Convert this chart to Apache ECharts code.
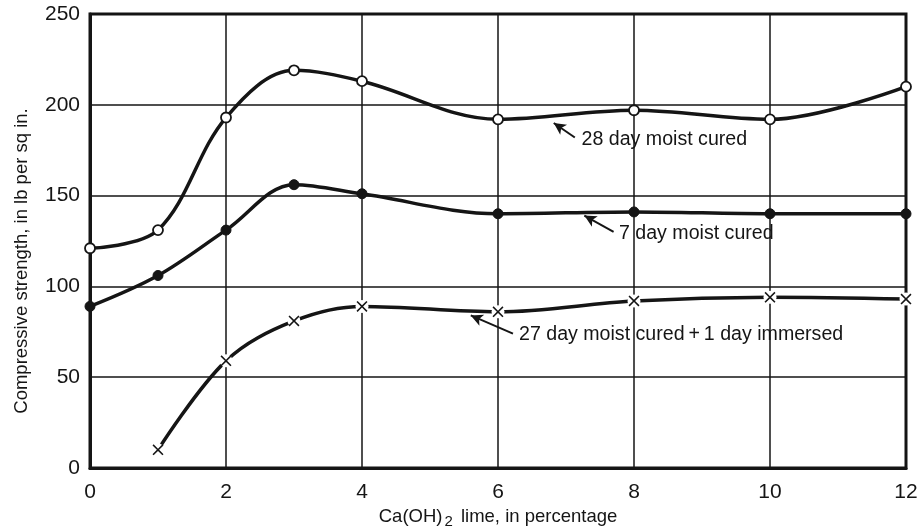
<!DOCTYPE html>
<html>
<head>
<meta charset="utf-8">
<script src="https://cdn.jsdelivr.net/npm/echarts@6/dist/echarts.min.js"></script>
<style>
  html, body { margin: 0; padding: 0; background: #fff; }
  #chart { width: 919px; height: 528px; }
</style>
</head>
<body>
<div id="chart"></div>
<script>
// Lime content (percent) and compressive strength (lb per sq in.)
const limePct = [0, 1, 2, 3, 4, 6, 8, 10, 12];
const moist28 = [121, 131, 193, 219, 213, 192, 197, 192, 210];
const moist7 = [89, 106, 131, 156, 151, 140, 141, 140, 140];
const immersedPct = [1, 2, 3, 4, 6, 8, 10, 12];
const immersed = [10, 59, 81, 89, 86, 92, 94, 93];

// Curve labels: text, label anchor [x, y] (data units), arrow tail and head
const curveNotes = [
  { text: '28 day moist cured', at: [7.17, 181], tail: [7.13, 182], head: [6.82, 190] },
  { text: '7 day moist cured', at: [7.72, 129], tail: [7.7, 130], head: [7.27, 139] },
  { text: '27 day moist cured\u2009+\u20091 day immersed', at: [6.25, 73.5], tail: [6.22, 74], head: [5.6, 84] }
];

const ink = '#151515';
const font = '"Liberation Sans", Arial, sans-serif';

function pairs(xs, ys) { return xs.map((x, i) => [x, ys[i]]); }

const crossPath = 'path://M0,1 L1,0 L5,4 L9,0 L10,1 L6,5 L10,9 L9,10 L5,6 L1,10 L0,9 L4,5 Z';

function arrowLine(note) {
  return [{ coord: note.tail }, { coord: note.head }];
}

const chart = echarts.init(document.getElementById('chart'));

chart.setOption({
  animation: false,
  backgroundColor: '#fff',
  grid: {
    left: 90, right: 13, top: 14, bottom: 60,
    outerBoundsMode: 'none', containLabel: false,
    show: true, borderColor: ink, borderWidth: 3
  },
  xAxis: {
    type: 'value', min: 0, max: 12, interval: 2,
    name: 'Ca(OH){sub|2} lime, in percentage',
    nameLocation: 'middle', nameGap: 37,
    nameTextStyle: {
      fontFamily: font, fontSize: 18.5, color: ink,
      rich: { sub: { fontFamily: font, fontSize: 15, color: ink, verticalAlign: 'bottom', padding: [9, 3, 0, 2] } }
    },
    axisLine: { show: true, lineStyle: { color: ink, width: 3 } },
    axisTick: { show: false },
    axisLabel: { fontFamily: font, fontSize: 21, color: ink, margin: 14 },
    splitLine: { show: true, lineStyle: { color: ink, width: 1.5 } }
  },
  yAxis: {
    type: 'value', min: 0, max: 250, interval: 50,
    name: 'Compressive strength, in lb per sq in.',
    nameLocation: 'middle', nameGap: 59, nameRotate: 90,
    nameTextStyle: { fontFamily: font, fontSize: 18.5, color: ink, padding: [0, 40, 0, 0] },
    axisLine: { show: true, lineStyle: { color: ink, width: 3 } },
    axisTick: { show: false },
    axisLabel: { fontFamily: font, fontSize: 21, color: ink, margin: 10 },
    splitLine: { show: true, lineStyle: { color: ink, width: 1.5 } }
  },
  series: [
    {
      name: '28 day moist cured', type: 'line', smooth: 0.35,
      data: pairs(limePct, moist28),
      symbol: 'circle', symbolSize: 10, showAllSymbol: true,
      lineStyle: { color: ink, width: 3.5 },
      itemStyle: { color: '#fff', borderColor: ink, borderWidth: 1.8 },
      z: 3,
      markLine: {
        silent: true, symbol: ['none', 'arrow'], symbolSize: [9, 12],
        lineStyle: { color: ink, width: 2, type: 'solid', curveness: -0.15 },
        label: { show: false },
        data: [arrowLine(curveNotes[0])]
      }
    },
    {
      name: '7 day moist cured', type: 'line', smooth: 0.35,
      data: pairs(limePct, moist7),
      symbol: 'circle', symbolSize: 10, showAllSymbol: true,
      lineStyle: { color: ink, width: 3.5 },
      itemStyle: { color: ink, borderColor: ink, borderWidth: 1 },
      z: 3,
      markLine: {
        silent: true, symbol: ['none', 'arrow'], symbolSize: [9, 12],
        lineStyle: { color: ink, width: 2, type: 'solid', curveness: -0.15 },
        label: { show: false },
        data: [arrowLine(curveNotes[1])]
      }
    },
    {
      name: '27 day moist cured + 1 day immersed', type: 'line', smooth: 0.35,
      data: pairs(immersedPct, immersed),
      symbol: 'none',
      lineStyle: { color: ink, width: 3.5 },
      z: 3,
      markLine: {
        silent: true, symbol: ['none', 'arrow'], symbolSize: [9, 12],
        lineStyle: { color: ink, width: 2, type: 'solid', curveness: -0.25 },
        label: { show: false },
        data: [arrowLine(curveNotes[2])]
      }
    },
    {
      // white halo that breaks the immersed curve around each point
      type: 'scatter', data: pairs(immersedPct, immersed),
      symbol: 'circle', symbolSize: 13,
      itemStyle: { color: '#fff', opacity: 1 }, z: 4, silent: true
    },
    {
      type: 'scatter', data: pairs(immersedPct, immersed),
      symbol: crossPath, symbolSize: 11,
      itemStyle: { color: ink, opacity: 1 }, z: 5, silent: true
    }
  ]
});

// Curve labels placed from data coordinates
chart.setOption({
  graphic: curveNotes.map(note => {
    const p = chart.convertToPixel({ gridIndex: 0 }, note.at);
    return {
      type: 'text', x: p[0] + 4, y: p[1], z: 10,
      style: {
        text: note.text, fontFamily: font, fontSize: 19.6, fill: ink,
        textAlign: 'left', textVerticalAlign: 'middle'
      }
    };
  })
});
</script>
</body>
</html>
